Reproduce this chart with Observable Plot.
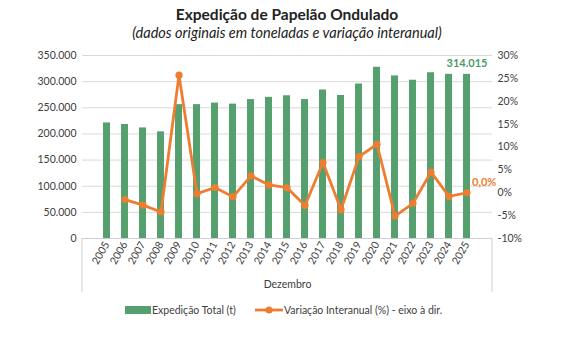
<!DOCTYPE html>
<html><head><meta charset="utf-8">
<script src="https://cdn.jsdelivr.net/npm/d3@7"></script>
<script src="https://cdn.jsdelivr.net/npm/@observablehq/plot@0.6"></script>
<style>
body{margin:0;background:#fff;font-family:Lato,"Open Sans",sans-serif;}
#wrap{position:relative;width:567px;height:337px;overflow:hidden;}
#title{position:absolute;top:5px;left:0;width:574px;text-align:center;font-weight:bold;font-size:15.5px;color:#222;}
#sub{position:absolute;top:24px;left:0;width:574px;text-align:center;font-style:italic;font-size:14.5px;color:#222;}
#chart{position:absolute;top:0;left:0;}
#legend{position:absolute;top:302px;left:0;width:567px;font-size:10.5px;color:#404040;}
.li{position:absolute;top:0;display:flex;align-items:center;height:16px;}
</style></head>
<body><div id="wrap">
<div id="title">Expedição de Papelão Ondulado</div>
<div id="sub">(dados originais em toneladas e variação interanual)</div>
<div id="chart"></div>
<div id="legend">
 <div class="li" style="left:125px"><svg width="26" height="8"><rect width="26" height="8" fill="#56A06F"/></svg><span style="margin-left:1px">Expedição Total (t)</span></div>
 <div class="li" style="left:255px"><svg width="28" height="10"><line x1="0" y1="5" x2="28" y2="5" stroke="#ED7D31" stroke-width="2.8"/><circle cx="14" cy="5" r="3.6" fill="#ED7D31"/></svg><span style="margin-left:1px">Variação Interanual (%) - eixo à dir.</span></div>
</div>
</div>
<script>
const years = ["2005","2006","2007","2008","2009","2010","2011","2012","2013","2014","2015","2016","2017","2018","2019","2020","2021","2022","2023","2024","2025"];
const expedicao = [221000,218000,211500,204000,256000,256000,259000,257000,265700,270000,273000,265700,284000,273500,295500,327500,311000,302700,317000,314000,314015];
const variacao = [null,-1.5,-2.7,-4.2,25.7,-0.2,1.15,-0.9,3.7,1.7,1.1,-2.8,6.6,-3.7,7.9,10.6,-5.1,-2.3,4.5,-0.8,0.0];
const leftTicks = [0,50000,100000,150000,200000,250000,300000,350000];
const rightTicks = [-10,-5,0,5,10,15,20,25,30];

const LMAX = 350000, RMIN = -10, RMAX = 30;
const toLeft = p => (p - RMIN) / (RMAX - RMIN) * LMAX;
const fromLeft = v => Math.round(v / LMAX * (RMAX - RMIN) + RMIN);
const fmtT = d => d3.format(",")(d).replace(/,/g, ".");

const bars = years.map((y, i) => ({year: y, value: expedicao[i]}));
const line = years.map((y, i) => ({year: y, pct: variacao[i]})).filter(d => d.pct !== null).map(d => ({...d, yv: toLeft(d.pct)}));
const lastBar = bars[bars.length - 1];
const lastPt = line[line.length - 1];

const green = "#56A06F", orange = "#ED7D31";

const chart = Plot.plot({
  width: 567, height: 300,
  marginTop: 55, marginBottom: 62, marginLeft: 82, marginRight: 75,
  style: {fontFamily: "Lato, 'Open Sans', sans-serif", fontSize: "10.5px", color: "#404040", background: "transparent"},
  x: {type: "band", domain: years, padding: 0.6},
  y: {domain: [0, LMAX]},
  marks: [
    Plot.gridY(leftTicks, {stroke: "#d9d9d9", strokeOpacity: 1}),
    Plot.barY(bars, {x: "year", y: "value", fill: green}),
    Plot.ruleY([0], {stroke: "#d0d0d0"}),
    Plot.line(line, {x: "year", y: "yv", stroke: orange, strokeWidth: 2.8, curve: "linear"}),
    Plot.dot(line, {x: "year", y: "yv", fill: orange, r: 3.6}),
    Plot.axisY({ticks: leftTicks, tickSize: 0, tickPadding: 6, tickFormat: fmtT, label: null}),
    Plot.axisY({anchor: "right", ticks: rightTicks.map(toLeft), tickSize: 0, tickPadding: 5, tickFormat: v => fromLeft(v) + "%", label: null}),
    Plot.axisX({tickRotate: -60, tickSize: 0, tickPadding: 4, label: null}),
    Plot.text(["Dezembro"], {frameAnchor: "bottom", dy: 49, fontSize: 10.5}),
    Plot.text([lastBar], {x: "year", y: "value", text: d => fmtT(d.value), fill: "#4E9A69", fontWeight: "bold", dy: -11, fontSize: 11}),
    Plot.text([lastPt], {x: "year", y: "yv", text: d => d3.format(".1f")(d.pct).replace(".", ",") + "%", fill: orange, fontWeight: "bold", textAnchor: "start", dx: 5, dy: -10, fontSize: 11})
  ]
});
document.getElementById("chart").appendChild(chart);
// category-axis boundary lines (Excel style) at the plot edges
const svg = d3.select(chart);
[82, 492].forEach(x => svg.append("line").attr("x1", x).attr("x2", x).attr("y1", 238).attr("y2", 292).attr("stroke", "#d0d0d0"));
</script>
</body></html>
